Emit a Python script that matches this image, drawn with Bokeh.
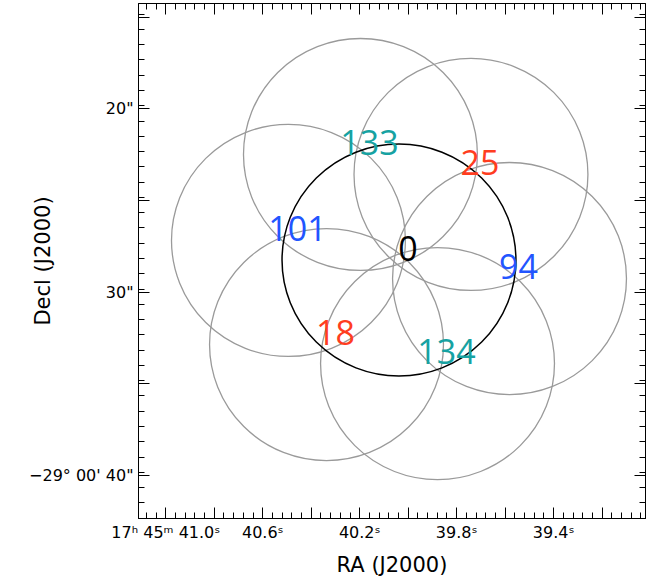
import math
from bokeh.plotting import figure
from bokeh.models import (Range1d, LinearAxis, FixedTicker, CustomJSTickFormatter,
                          ColumnDataSource)
from bokeh.embed import file_html
from bokeh.resources import INLINE
from bokeh.core.properties import value

# Field centres: RA = 17h45m + ra_sec seconds, Dec = -29d00' + dec_arcsec arcsec
field_ids = ["0", "133", "25", "101", "94", "18", "134"]
ra_sec = [40.038, 40.197, 39.741, 40.494, 39.582, 40.337, 39.879]
dec_arcsec = [28.25, 22.49, 23.58, 27.18, 29.26, 32.86, 33.90]
label_colors = ["#000000", "#17a2a2", "#ff3d1f", "#2255ff", "#2255ff", "#ff3d1f", "#17a2a2"]
radius_arcsec = 6.33
dec_deg = -29.0

# axis ticks / labels
x_major = [41.0, 40.8, 40.6, 40.4, 40.2, 40.0, 39.8, 39.6, 39.4, 39.2]
x_labeled = [41.0, 40.6, 40.2, 39.8, 39.4]
x_labels = ["17ʰ 45ᵐ 41.0ˢ", "40.6ˢ", "40.2ˢ", "39.8ˢ", "39.4ˢ"]
y_major = [15, 20, 25, 30, 35, 40]
y_labeled = [20, 30, 40]
y_labels = ['20"', '30"', "−29° 00' 40\""]

LABEL_FONT = "Open Sans"
AXIS_FONT = "DejaVu Sans"

sec_per_arcsec = 1.0 / (15.0 * math.cos(math.radians(abs(dec_deg))))
ell_w = [2 * radius_arcsec * sec_per_arcsec] * len(ra_sec)
ell_h = [2 * radius_arcsec] * len(ra_sec)

src = ColumnDataSource(dict(ra=ra_sec, dec=dec_arcsec, fid=field_ids, col=label_colors))
src_gray = ColumnDataSource(dict(ra=ra_sec[1:], dec=dec_arcsec[1:], w=ell_w[1:], h=ell_h[1:]))
src_main = ColumnDataSource(dict(ra=ra_sec[:1], dec=dec_arcsec[:1], w=ell_w[:1], h=ell_h[:1]))

p = figure(frame_width=507, frame_height=515, output_backend="svg", toolbar_location=None,
           x_range=Range1d(41.1126, 39.021), y_range=Range1d(42.35, 14.255),
           min_border_left=138, min_border_right=10, min_border_top=3, min_border_bottom=10)
p.grid.visible = False
p.outline_line_color = "black"
p.outline_line_width = 1
p.background_fill_color = "white"
p.border_fill_color = "white"

p.ellipse(x="ra", y="dec", width="w", height="h", source=src_gray,
          fill_color=None, line_color="#9a9a9a", line_width=1.3)
p.ellipse(x="ra", y="dec", width="w", height="h", source=src_main,
          fill_color=None, line_color="black", line_width=1.5)
p.text(x="ra", y="dec", text="fid", source=src, text_color="col",
       text_font=value(LABEL_FONT), text_font_size="34px", text_align="center",
       text_baseline="alphabetic", x_offset=9, y_offset=-12)

x_minor = [round(39.0 + 0.04 * i, 2) for i in range(0, 54)]
y_minor = [14 + i * (5.0 / 6.0) for i in range(0, 36)]
xt = FixedTicker(ticks=x_major, minor_ticks=x_minor)
yt = FixedTicker(ticks=y_major, minor_ticks=y_minor)

code = """
for (let i = 0; i < vals.length; i++) {
  if (Math.abs(tick - vals[i]) < 1e-6) { return labs[i]; }
}
return "";
"""
blank = CustomJSTickFormatter(code="return '';")


def style(ax, labels=True):
    ax.axis_line_color = "black"
    ax.major_tick_line_color = "black"
    ax.minor_tick_line_color = "black"
    ax.major_tick_in = 11
    ax.major_tick_out = 0
    ax.minor_tick_in = 6
    ax.minor_tick_out = 0
    ax.major_label_text_font = AXIS_FONT
    ax.axis_label_text_font = AXIS_FONT
    ax.axis_label_text_font_style = "normal"
    ax.axis_label_text_color = "black"
    ax.major_label_text_color = "black"
    if not labels:
        ax.major_label_text_font_size = "0px"
        ax.major_label_standoff = 0


xb = p.below[0]
xb.ticker = xt
xb.formatter = CustomJSTickFormatter(args=dict(vals=x_labeled, labs=x_labels), code=code)
style(xb)
xb.major_label_text_font_size = "16px"
xb.major_label_standoff = 4
xb.axis_label = "RA (J2000)"
xb.axis_label_text_font_size = "21px"
xb.axis_label_standoff = 8

yl = p.left[0]
yl.ticker = yt
yl.formatter = CustomJSTickFormatter(args=dict(vals=y_labeled, labs=y_labels), code=code)
style(yl)
yl.major_label_text_font_size = "16px"
yl.major_label_standoff = 5
yl.axis_label = "Decl (J2000)"
yl.axis_label_text_font_size = "21px"
yl.axis_label_standoff = -29

xa = LinearAxis(ticker=xt, formatter=blank)
style(xa, labels=False)
p.add_layout(xa, "above")
yr = LinearAxis(ticker=yt, formatter=blank)
style(yr, labels=False)
p.add_layout(yr, "right")

open("out.html", "w").write(file_html(p, INLINE))
